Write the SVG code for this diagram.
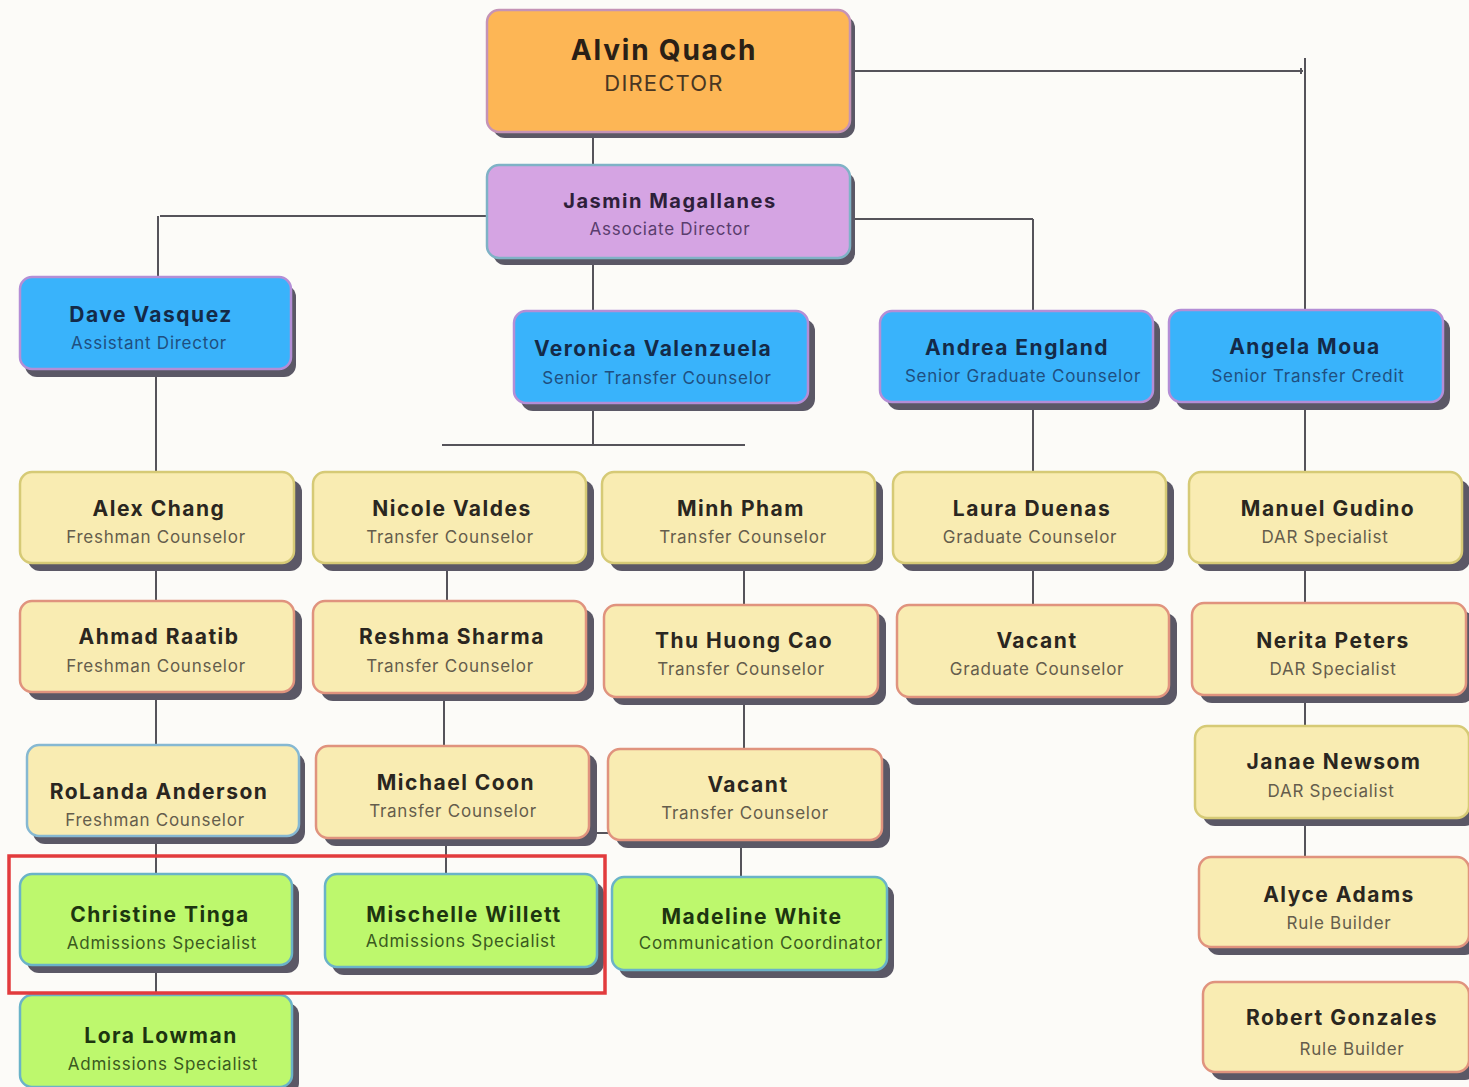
<svg xmlns="http://www.w3.org/2000/svg" width="1469" height="1087" viewBox="0 0 1469 1087">
<style>
.bg{fill:#fcfbf8}
.sh{fill:#5b5866}
.box{stroke-width:2.5}
.or{fill:#fdb655;stroke:#c593b6}
.pu{fill:#d5a4e3;stroke:#7fb2c6}
.bl{fill:#39b3fb;stroke:#b48ed6}
.ye{fill:#f9ecb2;stroke:#d6ca76}
.ys{fill:#f9ecb2;stroke:#e0937e}
.yb{fill:#f9ecb2;stroke:#86b8d2}
.gr{fill:#bdf86d;stroke:#6ab3c8}
text{font-family:Inter,"Liberation Sans","DejaVu Sans",sans-serif;text-anchor:middle}
.nm{font-size:21px;font-weight:700;letter-spacing:1.5px}
.sb{font-size:17px;font-weight:400;letter-spacing:0.75px}
.blt .nm{fill:#142a48}.blt .sb{fill:#1f4f80}
.yet .nm{fill:#2a2620}.yet .sb{fill:#655d4c}
.grt .nm{fill:#1d3510}.grt .sb{fill:#3a5a20}
.lnk{stroke:#55535a;stroke-width:2;fill:none}
</style>
<rect class="bg" x="0" y="0" width="1469" height="1087"/>

<g id="connectors">
<path class="lnk" d="M593 133V165"/>
<path class="lnk" d="M851 71H1303M1305 58V310M1301 68V74"/>
<path class="lnk" d="M487 216H160M158 216V278"/>
<path class="lnk" d="M851 219H1033M1033 219V311"/>
<path class="lnk" d="M593 258V311"/>
<path class="lnk" d="M593 403V446M442 445H745"/>
<path class="lnk" d="M156 368V472"/>
<path class="lnk" d="M1033 402V472"/>
<path class="lnk" d="M1305 402V472"/>
<path class="lnk" d="M156 563V601"/>
<path class="lnk" d="M447 563V601"/>
<path class="lnk" d="M744 563V605"/>
<path class="lnk" d="M1033 563V605"/>
<path class="lnk" d="M1305 563V603"/>
<path class="lnk" d="M156 692V745"/>
<path class="lnk" d="M444 693V746"/>
<path class="lnk" d="M744 697V749"/>
<path class="lnk" d="M1305 695V726"/>
<path class="lnk" d="M589 833H608"/>
<path class="lnk" d="M156 836V874"/>
<path class="lnk" d="M446 838V874"/>
<path class="lnk" d="M741 840V877"/>
<path class="lnk" d="M1305 818V857"/>
<path class="lnk" d="M156 965V995"/>
</g>

<g id="n-alvin">
<rect class="sh" x="493" y="16" width="362" height="122" rx="12"/>
<rect class="box or" x="487" y="10" width="363" height="122" rx="12"/>
<text x="664" y="60" style="font-size:28px;font-weight:700;letter-spacing:1.8px;fill:#2a2016">Alvin Quach</text>
<text x="664" y="91" style="font-size:22px;letter-spacing:1.2px;fill:#4a3622">DIRECTOR</text>
</g>

<g id="n-jasmin">
<rect class="sh" x="493" y="172" width="362" height="93" rx="12"/>
<rect class="box pu" x="487" y="165" width="363" height="93" rx="12"/>
<text class="nm" x="670" y="208" style="font-size:20px;fill:#2e1f3a">Jasmin Magallanes</text>
<text class="sb" x="670" y="235" style="fill:#5a3d6e">Associate Director</text>
</g>

<g id="n-dave" class="blt">
<rect class="sh" x="25" y="285" width="271" height="92" rx="12"/>
<rect class="box bl" x="20" y="277" width="271" height="92" rx="12"/>
<text class="nm" x="151" y="322">Dave Vasquez</text>
<text class="sb" x="149" y="349">Assistant Director</text>
</g>

<g id="n-veronica" class="blt">
<rect class="sh" x="521" y="319" width="294" height="92" rx="12"/>
<rect class="box bl" x="514" y="311" width="294" height="92" rx="12"/>
<text class="nm" x="653" y="356">Veronica Valenzuela</text>
<text class="sb" x="657" y="384">Senior Transfer Counselor</text>
</g>

<g id="n-andrea" class="blt">
<rect class="sh" x="887" y="319" width="273" height="91" rx="12"/>
<rect class="box bl" x="880" y="311" width="273" height="91" rx="12"/>
<text class="nm" x="1017" y="355">Andrea England</text>
<text class="sb" x="1023" y="382">Senior Graduate Counselor</text>
</g>

<g id="n-angela" class="blt">
<rect class="sh" x="1176" y="318" width="274" height="92" rx="12"/>
<rect class="box bl" x="1169" y="310" width="274" height="92" rx="12"/>
<text class="nm" x="1305" y="354">Angela Moua</text>
<text class="sb" x="1308" y="382">Senior Transfer Credit</text>
</g>

<g id="n-alex" class="yet">
<rect class="sh" x="28" y="480" width="274" height="91" rx="12"/>
<rect class="box ye" x="20" y="472" width="274" height="91" rx="12"/>
<text class="nm" x="159" y="516">Alex Chang</text>
<text class="sb" x="156" y="543">Freshman Counselor</text>
</g>

<g id="n-nicole" class="yet">
<rect class="sh" x="321" y="480" width="273" height="91" rx="12"/>
<rect class="box ye" x="313" y="472" width="273" height="91" rx="12"/>
<text class="nm" x="452" y="516">Nicole Valdes</text>
<text class="sb" x="450" y="543">Transfer Counselor</text>
</g>

<g id="n-minh" class="yet">
<rect class="sh" x="610" y="480" width="273" height="91" rx="12"/>
<rect class="box ye" x="602" y="472" width="273" height="91" rx="12"/>
<text class="nm" x="741" y="516">Minh Pham</text>
<text class="sb" x="743" y="543">Transfer Counselor</text>
</g>

<g id="n-laura" class="yet">
<rect class="sh" x="901" y="480" width="273" height="91" rx="12"/>
<rect class="box ye" x="893" y="472" width="273" height="91" rx="12"/>
<text class="nm" x="1032" y="516">Laura Duenas</text>
<text class="sb" x="1030" y="543">Graduate Counselor</text>
</g>

<g id="n-manuel" class="yet">
<rect class="sh" x="1197" y="480" width="273" height="91" rx="12"/>
<rect class="box ye" x="1189" y="472" width="273" height="91" rx="12"/>
<text class="nm" x="1328" y="516">Manuel Gudino</text>
<text class="sb" x="1325" y="543">DAR Specialist</text>
</g>

<g id="n-ahmad" class="yet">
<rect class="sh" x="28" y="609" width="274" height="91" rx="12"/>
<rect class="box ys" x="20" y="601" width="274" height="91" rx="12"/>
<text class="nm" x="159" y="644">Ahmad Raatib</text>
<text class="sb" x="156" y="672">Freshman Counselor</text>
</g>

<g id="n-reshma" class="yet">
<rect class="sh" x="321" y="609" width="273" height="92" rx="12"/>
<rect class="box ys" x="313" y="601" width="273" height="92" rx="12"/>
<text class="nm" x="452" y="644">Reshma Sharma</text>
<text class="sb" x="450" y="672">Transfer Counselor</text>
</g>

<g id="n-thu" class="yet">
<rect class="sh" x="612" y="613" width="274" height="92" rx="12"/>
<rect class="box ys" x="604" y="605" width="274" height="92" rx="12"/>
<text class="nm" x="744" y="648">Thu Huong Cao</text>
<text class="sb" x="741" y="675">Transfer Counselor</text>
</g>

<g id="n-vacant-grad" class="yet">
<rect class="sh" x="905" y="613" width="272" height="92" rx="12"/>
<rect class="box ys" x="897" y="605" width="272" height="92" rx="12"/>
<text class="nm" x="1037" y="648">Vacant</text>
<text class="sb" x="1037" y="675">Graduate Counselor</text>
</g>

<g id="n-nerita" class="yet">
<rect class="sh" x="1200" y="611" width="274" height="92" rx="12"/>
<rect class="box ys" x="1192" y="603" width="274" height="92" rx="12"/>
<text class="nm" x="1333" y="648">Nerita Peters</text>
<text class="sb" x="1333" y="675">DAR Specialist</text>
</g>

<g id="n-rolanda" class="yet">
<rect class="sh" x="33" y="753" width="272" height="91" rx="12"/>
<rect class="box yb" x="27" y="745" width="272" height="91" rx="12"/>
<text class="nm" x="159" y="799">RoLanda Anderson</text>
<text class="sb" x="155" y="826">Freshman Counselor</text>
</g>

<g id="n-michael" class="yet">
<rect class="sh" x="324" y="754" width="273" height="92" rx="12"/>
<rect class="box ys" x="316" y="746" width="273" height="92" rx="12"/>
<text class="nm" x="456" y="790">Michael Coon</text>
<text class="sb" x="453" y="817">Transfer Counselor</text>
</g>

<g id="n-vacant-transfer" class="yet">
<rect class="sh" x="616" y="757" width="274" height="91" rx="12"/>
<rect class="box ys" x="608" y="749" width="274" height="91" rx="12"/>
<text class="nm" x="748" y="792">Vacant</text>
<text class="sb" x="745" y="819">Transfer Counselor</text>
</g>

<g id="n-janae" class="yet">
<rect class="sh" x="1203" y="734" width="274" height="92" rx="12"/>
<rect class="box ye" x="1195" y="726" width="274" height="92" rx="12"/>
<text class="nm" x="1334" y="769">Janae Newsom</text>
<text class="sb" x="1331" y="797">DAR Specialist</text>
</g>

<g id="n-christine" class="grt">
<rect class="sh" x="27" y="882" width="272" height="91" rx="12"/>
<rect class="box gr" x="20" y="874" width="272" height="91" rx="12"/>
<text class="nm" x="160" y="922">Christine Tinga</text>
<text class="sb" x="162" y="949">Admissions Specialist</text>
</g>

<g id="n-mischelle" class="grt">
<rect class="sh" x="332" y="882" width="272" height="93" rx="12"/>
<rect class="box gr" x="325" y="874" width="272" height="93" rx="12"/>
<text class="nm" x="464" y="922">Mischelle Willett</text>
<text class="sb" x="461" y="947">Admissions Specialist</text>
</g>

<g id="n-madeline" class="grt">
<rect class="sh" x="619" y="885" width="275" height="93" rx="12"/>
<rect class="box gr" x="612" y="877" width="275" height="93" rx="12"/>
<text class="nm" x="752" y="924">Madeline White</text>
<text class="sb" x="761" y="949">Communication Coordinator</text>
</g>

<g id="n-alyce" class="yet">
<rect class="sh" x="1207" y="865" width="270" height="90" rx="12"/>
<rect class="box ys" x="1199" y="857" width="270" height="90" rx="12"/>
<text class="nm" x="1339" y="902">Alyce Adams</text>
<text class="sb" x="1339" y="929">Rule Builder</text>
</g>

<g id="n-lora" class="grt">
<rect class="sh" x="27" y="1003" width="272" height="92" rx="12"/>
<rect class="box gr" x="20" y="995" width="272" height="92" rx="12"/>
<text class="nm" x="161" y="1043">Lora Lowman</text>
<text class="sb" x="163" y="1070">Admissions Specialist</text>
</g>

<g id="n-robert" class="yet">
<rect class="sh" x="1211" y="990" width="266" height="90" rx="12"/>
<rect class="box ys" x="1203" y="982" width="266" height="90" rx="12"/>
<text class="nm" x="1342" y="1025">Robert Gonzales</text>
<text class="sb" x="1352" y="1055">Rule Builder</text>
</g>

<g id="highlight">
<rect x="9" y="856" width="596" height="137" fill="none" stroke="#e23b3d" stroke-width="3.5"/>
</g>
</svg>
